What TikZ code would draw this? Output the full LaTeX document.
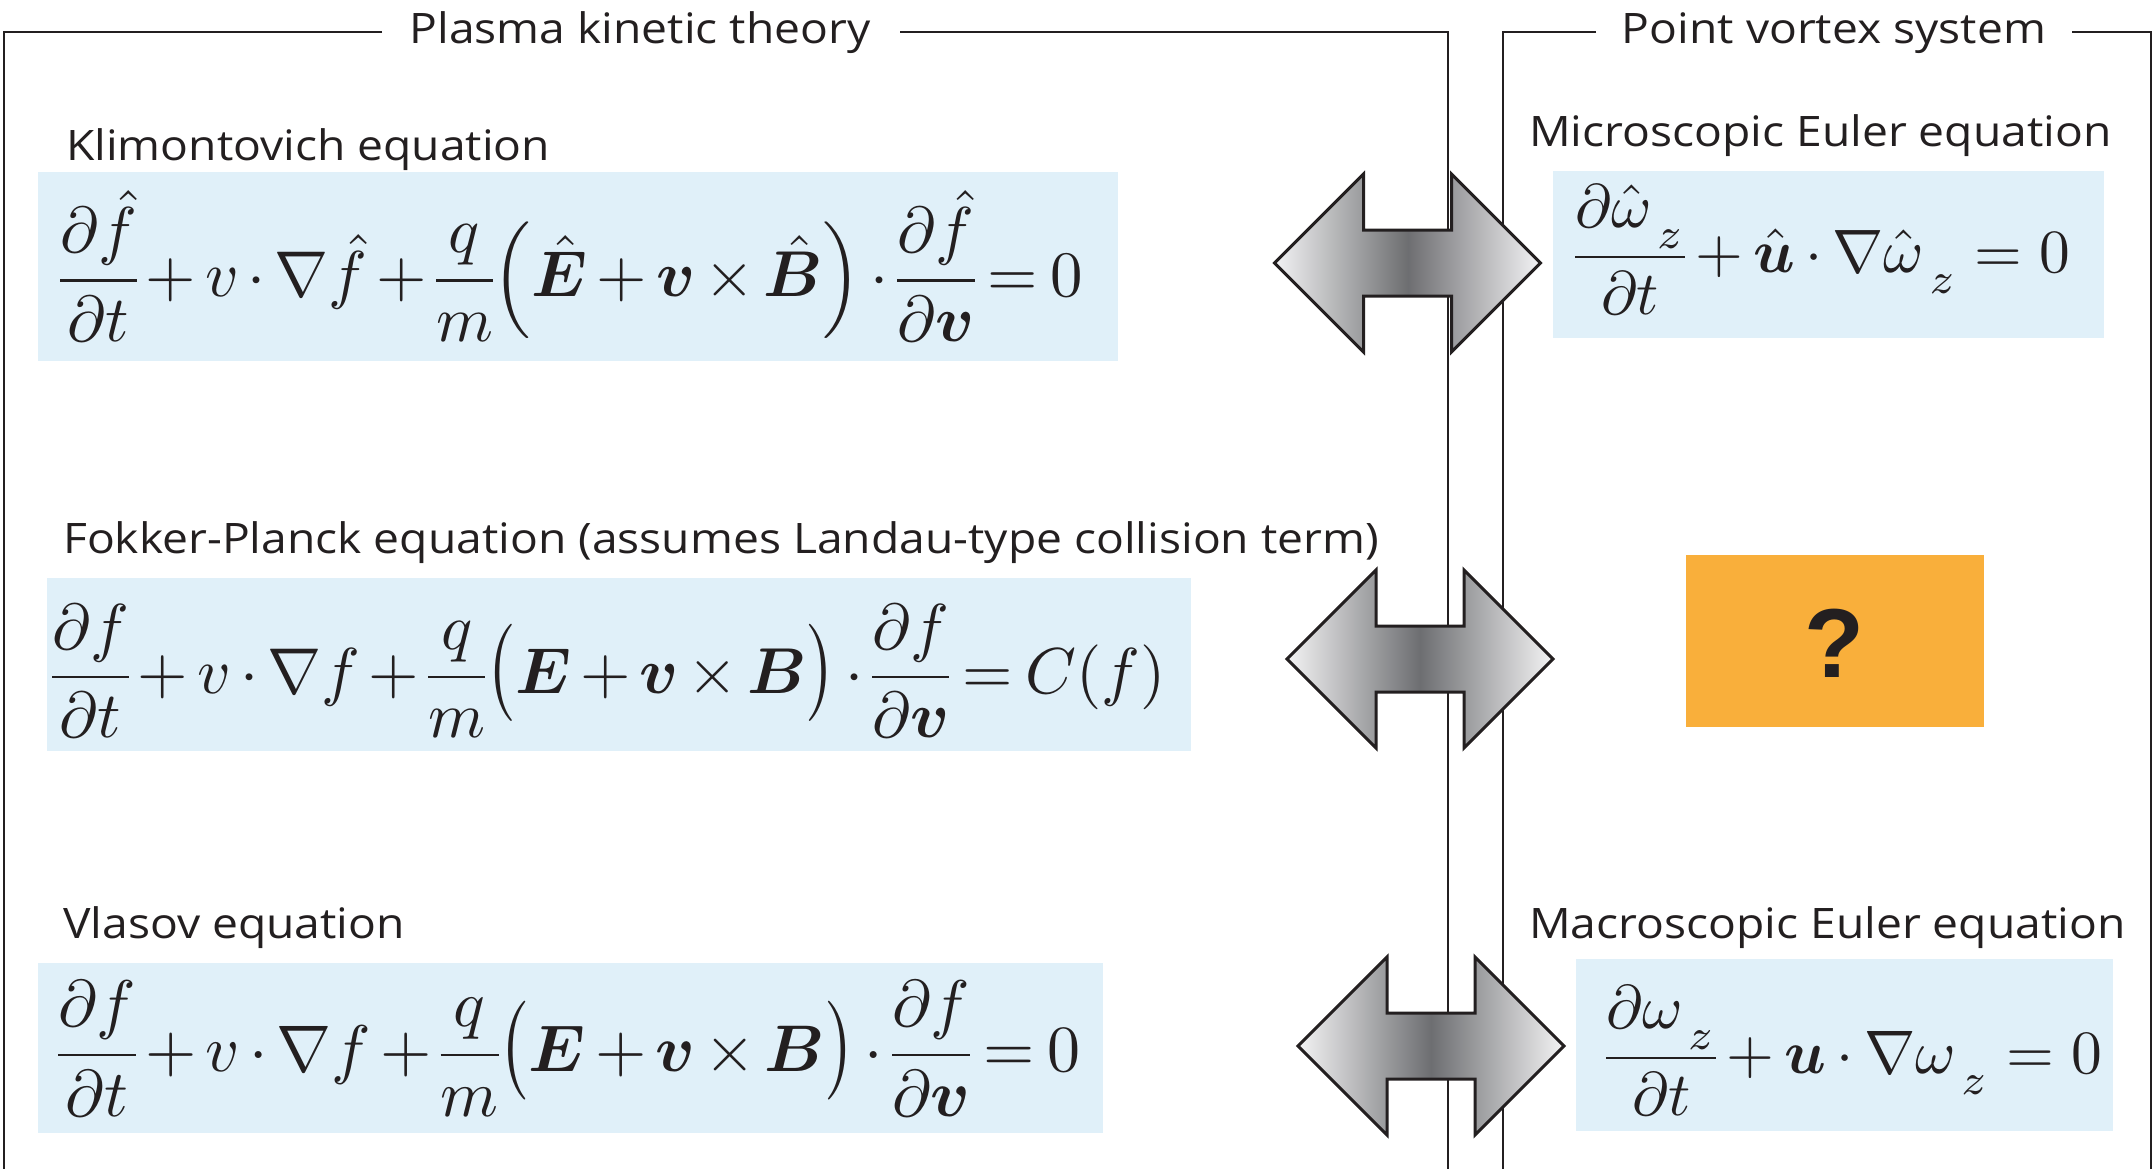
\documentclass[tikz,border=0pt]{standalone}
\usepackage{fontspec}
\setmainfont{Open Sans}[FakeStretch=1.1]
\newfontfamily\qfont{Liberation Sans}
\usepackage{amsmath}
\usepackage{bm}
\usepackage{graphicx}
\definecolor{ink}{HTML}{231F20}
\definecolor{boxblue}{HTML}{E0F0F9}
\definecolor{qorange}{HTML}{F9AF3B}
\definecolor{tipgray}{HTML}{F3F3F4}
\definecolor{midgray}{HTML}{6D6E71}
\newcommand{\tightmath}{\medmuskip=2.5mu\thickmuskip=3.5mu\nulldelimiterspace=0pt}
\newcommand{\midparen}[1]{\mathopen{\scalebox{1}[1.25]{$\bigl#1$}}}
\newcommand{\midparenr}[1]{\mathclose{\scalebox{1}[1.25]{$\bigr#1$}}}
\newcommand{\zsub}{\kern0.12em\raisebox{-0.35ex}{$\scriptstyle z$}}
\begin{document}
\begin{tikzpicture}[x=1pt,y=-1pt,
  frameline/.style={line width=2.5pt, draw=ink},
  eqbox/.style={fill=boxblue, inner sep=0, outer sep=0},
  lbl/.style={anchor=base west, inner sep=0, text=ink, font=\fontsize{42}{50}\selectfont},
  ttl/.style={anchor=base, inner sep=0, text=ink, font=\fontsize{42}{50}\selectfont},
  eqn/.style={anchor=west, inner sep=0, text=ink},
  dblarrow/.style={draw=ink, line width=3pt, line join=miter, left color=tipgray, right color=tipgray, middle color=midgray}
]
\useasboundingbox (0,0) rectangle (2154,1168);
% frames
\draw[frameline] (382,32) -- (4,32) -- (4,1170);
\draw[frameline] (900,32) -- (1448,32) -- (1448,1170);
\draw[frameline] (1596,32) -- (1503,32) -- (1503,1170);
\draw[frameline] (2072,32) -- (2151,32) -- (2151,1170);
\node[ttl] (tleft) at (640,43) {Plasma kinetic theory};
\node[ttl] (tright) at (1834,43) {Point vortex system};
% boxes
\node[eqbox, minimum width=1080, minimum height=189] (kbox) at (578,266.5) {};
\node[eqbox, minimum width=1144, minimum height=173] (fbox) at (619,664.5) {};
\node[eqbox, minimum width=1065, minimum height=170] (vbox) at (570.5,1048) {};
\node[eqbox, minimum width=551, minimum height=167] (mibox) at (1828.5,254.5) {};
\node[eqbox, minimum width=537, minimum height=172] (mabox) at (1844.5,1045) {};
\node[fill=qorange, inner sep=0, minimum width=298, minimum height=172] (qbox) at (1835,641) {};
\node[inner sep=0, text=ink] (q) at (1834,643) {\qfont\bfseries\fontsize{98}{100}\selectfont ?};
% labels
\node[lbl] (klbl) at (66,160) {Klimontovich equation};
\node[lbl] (flbl) at (63,553) {Fokker-Planck equation (assumes Landau-type collision term)};
\node[lbl] (vlbl) at (63,938) {Vlasov equation};
\node[lbl] (milbl) at (1529,146) {Microscopic Euler equation};
\node[lbl] (malbl) at (1529,938) {Macroscopic Euler equation};
% equations
\node[eqn] (keq) at (60,266) {\resizebox{1022pt}{!}{$\tightmath\displaystyle \frac{\partial \hat f}{\partial t}+v\cdot\nabla \hat f+\frac{q}{m}\Bigl(\hat{\bm E}+\bm v\times\hat{\bm B}\Bigr)\cdot\frac{\partial \hat f}{\partial \bm v}=0$}};
\node[eqn] (feq) at (52,671) {\resizebox{1113pt}{!}{$\tightmath\displaystyle \frac{\partial f}{\partial t}+v\cdot\nabla f+\frac{q}{m}\midparen(\bm E+\bm v\times\bm B\midparenr)\cdot\frac{\partial f}{\partial \bm v}=C(f)$}};
\node[eqn] (veq) at (58,1049) {\resizebox{1022pt}{!}{$\tightmath\displaystyle \frac{\partial f}{\partial t}+v\cdot\nabla f+\frac{q}{m}\midparen(\bm E+\bm v\times\bm B\midparenr)\cdot\frac{\partial f}{\partial \bm v}=0$}};
\node[eqn] (mieq) at (1575,250) {\resizebox{495pt}{!}{$\nulldelimiterspace=0pt\medmuskip=3mu\displaystyle \frac{\partial \hat\omega_{\zsub}}{\partial t}+\hat{\bm u}\cdot\nabla\hat\omega_{\zsub}=0$}};
\node[eqn] (maeq) at (1606,1051) {\resizebox{496pt}{!}{$\nulldelimiterspace=0pt\medmuskip=3mu\displaystyle \frac{\partial \omega_{\zsub}}{\partial t}+\bm u\cdot\nabla\omega_{\zsub}=0$}};
% double arrows
\foreach \cx/\cy in {1407.5/263, 1420/659, 1431/1046}{
  \shadedraw[dblarrow] (\cx-133,\cy) -- (\cx-44,\cy-89) -- (\cx-44,\cy-33) -- (\cx+44,\cy-33) -- (\cx+44,\cy-89) -- (\cx+133,\cy) -- (\cx+44,\cy+89) -- (\cx+44,\cy+33) -- (\cx-44,\cy+33) -- (\cx-44,\cy+89) -- cycle;
}
\end{tikzpicture}
\end{document}
